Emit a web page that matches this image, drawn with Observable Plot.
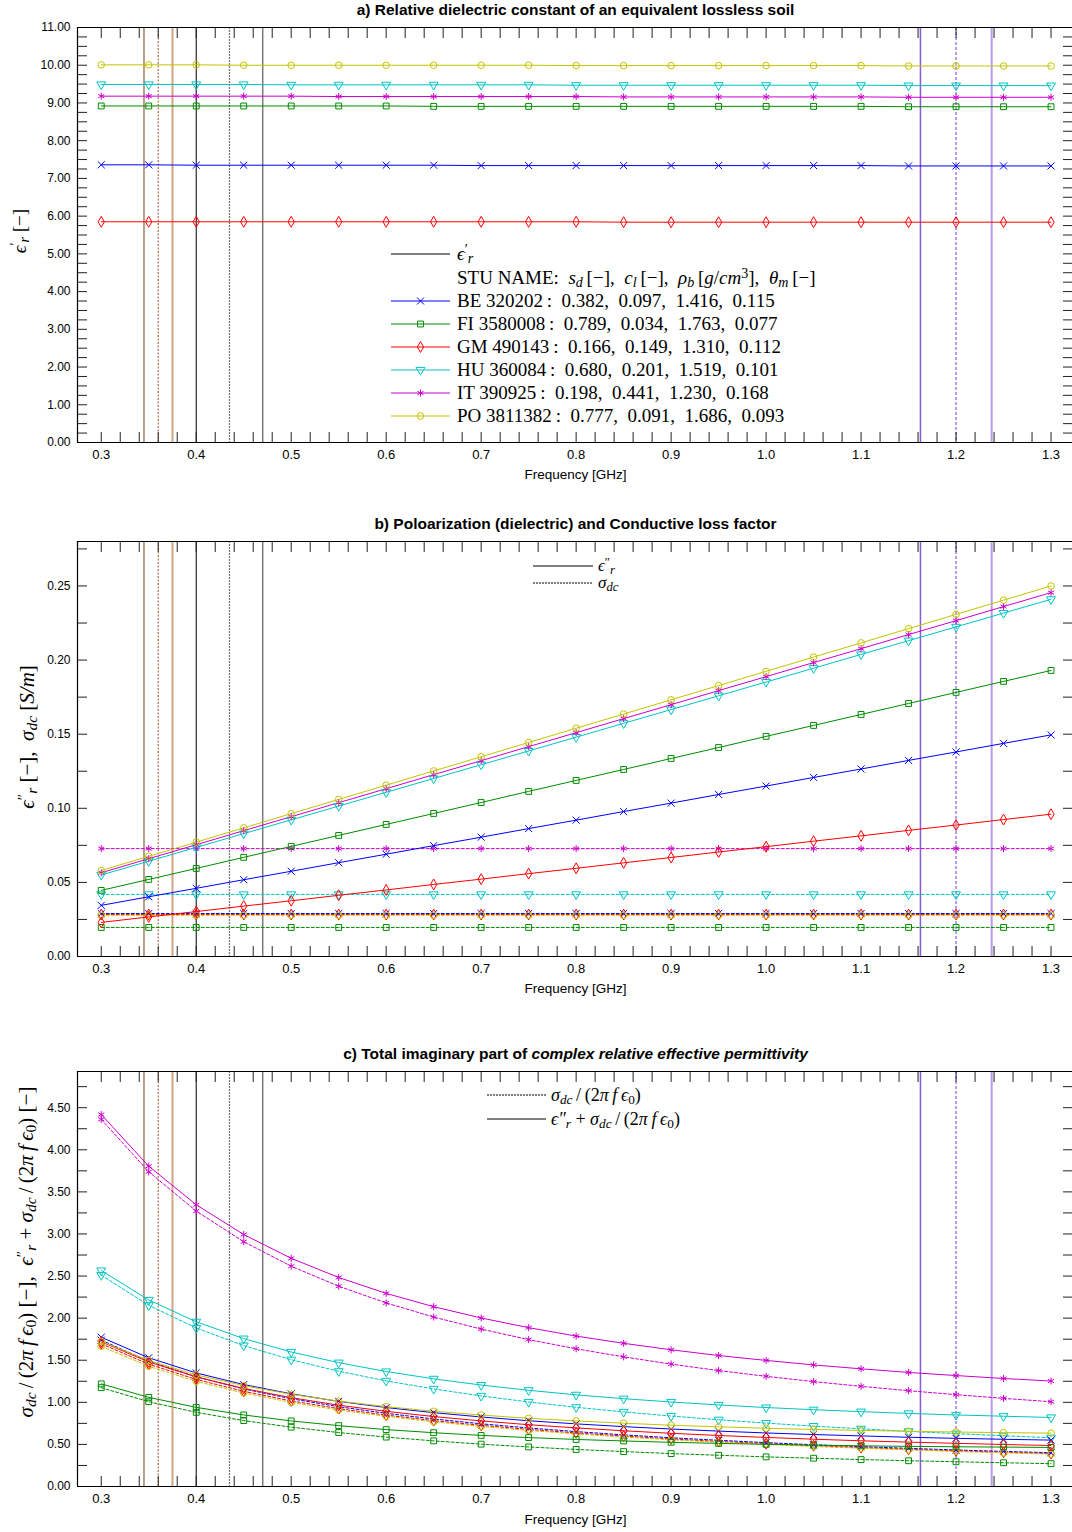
<!DOCTYPE html>
<html><head><meta charset="utf-8">
<script src="https://cdn.jsdelivr.net/npm/d3@7"></script>
<script src="https://cdn.jsdelivr.net/npm/@observablehq/plot@0.6"></script>
<style>
body{margin:0;background:#fff;}
#root{position:relative;width:1072px;height:1532px;overflow:hidden;font-family:"Liberation Sans",Arial,sans-serif;color:#000;}
.abs{position:absolute;}
.title{position:absolute;left:77px;width:997px;text-align:center;font-weight:bold;font-size:15.5px;line-height:18px;white-space:nowrap;}
.xlabel{position:absolute;left:77px;width:997px;text-align:center;font-size:13.5px;line-height:16px;}
.ylab{position:absolute;white-space:nowrap;transform:translate(-50%,-50%) rotate(-90deg);font-family:"Liberation Serif","Times New Roman",serif;font-size:21px;line-height:24px;}
.row{position:absolute;display:flex;align-items:center;height:24px;white-space:nowrap;font-family:"Liberation Serif","Times New Roman",serif;}
.row>span{line-height:0.92;display:inline-block;}
sub{font-size:0.74em;vertical-align:-0.22em;line-height:0;}
sup{font-size:0.74em;vertical-align:0.4em;line-height:0;}
svg.plot{position:absolute;left:0;}
</style></head>
<body><div id="root"></div>
<script>
// ---------------- DATA ----------------
const freq = [0.30,0.35,0.40,0.45,0.50,0.55,0.60,0.65,0.70,0.75,0.80,0.85,0.90,0.95,1.00,1.05,1.10,1.15,1.20,1.25,1.30];
const seriesNames = ["BE 320202","FI 3580008","GM 490143","HU 360084","IT 390925","PO 3811382"];
const soilParams = ["0.382,&ensp;0.097,&ensp;1.416,&ensp;0.115","0.789,&ensp;0.034,&ensp;1.763,&ensp;0.077","0.166,&ensp;0.149,&ensp;1.310,&ensp;0.112","0.680,&ensp;0.201,&ensp;1.519,&ensp;0.101","0.198,&ensp;0.441,&ensp;1.230,&ensp;0.168","0.777,&ensp;0.091,&ensp;1.686,&ensp;0.093"];

// a) real part eps'_r
const epsRealBE = [7.36,7.36,7.35,7.35,7.35,7.35,7.35,7.35,7.34,7.34,7.34,7.34,7.34,7.34,7.34,7.34,7.34,7.33,7.33,7.33,7.33];
const epsRealFI = [8.92,8.92,8.92,8.92,8.92,8.92,8.92,8.91,8.91,8.91,8.91,8.91,8.91,8.91,8.91,8.91,8.91,8.90,8.90,8.90,8.90];
const epsRealGM = [5.85,5.85,5.85,5.85,5.85,5.85,5.85,5.85,5.85,5.85,5.85,5.84,5.84,5.84,5.84,5.84,5.84,5.84,5.84,5.84,5.84];
const epsRealHU = [9.49,9.49,9.49,9.49,9.48,9.48,9.48,9.48,9.48,9.48,9.47,9.47,9.47,9.47,9.47,9.47,9.47,9.46,9.46,9.46,9.46];
const epsRealIT = [9.18,9.18,9.18,9.18,9.18,9.17,9.17,9.17,9.17,9.17,9.17,9.16,9.16,9.16,9.16,9.16,9.16,9.15,9.15,9.15,9.15];
const epsRealPO = [10.01,10.01,10.01,10.00,10.00,10.00,10.00,10.00,10.00,10.00,9.99,9.99,9.99,9.99,9.99,9.99,9.99,9.98,9.98,9.98,9.98];

// b) eps''_r (solid) and sigma_dc [S/m] (dashed)
const epsImagBE = [0.0345,0.0403,0.0460,0.0518,0.0575,0.0633,0.0690,0.0748,0.0805,0.0863,0.0920,0.0978,0.1035,0.1093,0.1150,0.1208,0.1265,0.1323,0.1380,0.1438,0.1495];
const epsImagFI = [0.0446,0.0520,0.0594,0.0669,0.0743,0.0817,0.0891,0.0965,0.1039,0.1114,0.1188,0.1262,0.1336,0.1410,0.1485,0.1559,0.1633,0.1707,0.1782,0.1856,0.1930];
const epsImagGM = [0.0230,0.0267,0.0303,0.0340,0.0376,0.0413,0.0449,0.0486,0.0522,0.0559,0.0595,0.0632,0.0668,0.0705,0.0741,0.0778,0.0814,0.0851,0.0887,0.0924,0.0960];
const epsImagHU = [0.0550,0.0643,0.0736,0.0829,0.0922,0.1015,0.1108,0.1201,0.1294,0.1387,0.1480,0.1573,0.1666,0.1759,0.1852,0.1945,0.2038,0.2131,0.2224,0.2317,0.2410];
const epsImagIT = [0.0565,0.0660,0.0754,0.0849,0.0943,0.1038,0.1132,0.1227,0.1321,0.1416,0.1510,0.1605,0.1699,0.1794,0.1888,0.1983,0.2077,0.2172,0.2266,0.2361,0.2455];
const epsImagPO = [0.0580,0.0676,0.0772,0.0868,0.0964,0.1060,0.1156,0.1252,0.1348,0.1444,0.1540,0.1636,0.1732,0.1828,0.1924,0.2020,0.2116,0.2212,0.2308,0.2404,0.2500];
const sigmaDC = [0.0290,0.0196,0.0283,0.0419,0.0728,0.0278]; // BE, FI, GM, HU, IT, PO

// c) sigma_dc/(2 pi f eps0) (dashed) and eps''_r + sigma_dc/(2 pi f eps0) (solid)
const condBE = [1.738,1.489,1.303,1.159,1.043,0.948,0.869,0.802,0.745,0.695,0.652,0.613,0.579,0.549,0.521,0.496,0.474,0.453,0.434,0.417,0.401];
const condFI = [1.174,1.007,0.881,0.783,0.705,0.641,0.587,0.542,0.503,0.470,0.440,0.415,0.391,0.371,0.352,0.336,0.320,0.306,0.294,0.282,0.271];
const condGM = [1.696,1.453,1.272,1.131,1.017,0.925,0.848,0.782,0.727,0.678,0.636,0.599,0.565,0.535,0.509,0.484,0.462,0.442,0.424,0.407,0.391];
const condHU = [2.511,2.152,1.883,1.674,1.506,1.369,1.255,1.159,1.076,1.004,0.941,0.886,0.837,0.793,0.753,0.717,0.685,0.655,0.628,0.603,0.579];
const condIT = [4.362,3.739,3.272,2.908,2.617,2.379,2.181,2.013,1.870,1.745,1.636,1.540,1.454,1.377,1.309,1.246,1.190,1.138,1.091,1.047,1.007];
const condPO = [1.666,1.428,1.249,1.111,0.999,0.908,0.833,0.769,0.714,0.666,0.625,0.588,0.555,0.526,0.500,0.476,0.454,0.435,0.416,0.400,0.384];
const totalBE = [1.773,1.529,1.349,1.211,1.101,1.011,0.938,0.877,0.826,0.781,0.744,0.711,0.683,0.658,0.636,0.617,0.601,0.585,0.572,0.561,0.551];
const totalFI = [1.219,1.059,0.940,0.850,0.779,0.723,0.676,0.639,0.607,0.581,0.559,0.541,0.525,0.512,0.501,0.492,0.483,0.477,0.472,0.468,0.464];
const totalGM = [1.719,1.480,1.302,1.165,1.055,0.966,0.893,0.831,0.779,0.734,0.696,0.662,0.632,0.606,0.583,0.562,0.543,0.527,0.513,0.499,0.487];
const totalHU = [2.566,2.216,1.957,1.757,1.598,1.471,1.366,1.279,1.205,1.143,1.089,1.043,1.004,0.969,0.938,0.912,0.889,0.868,0.850,0.835,0.820];
const totalIT = [4.419,3.805,3.347,2.993,2.711,2.483,2.294,2.136,2.002,1.887,1.787,1.701,1.624,1.556,1.498,1.444,1.398,1.355,1.318,1.283,1.253];
const totalPO = [1.724,1.496,1.326,1.198,1.095,1.014,0.949,0.894,0.849,0.810,0.779,0.752,0.728,0.709,0.692,0.678,0.666,0.656,0.647,0.640,0.634];

// vertical band markers [GHz]
const vlineFreqs = [0.345,0.36,0.375,0.40,0.435,0.47,1.1625,1.2,1.2375];

// tick labels
const xTickLabels = [0.3,0.4,0.5,0.6,0.7,0.8,0.9,1.0,1.1,1.2,1.3];
const yTickLabelsA = [0,1,2,3,4,5,6,7,8,9,10,11];
const yTickLabelsB = [0,0.05,0.10,0.15,0.20,0.25];
const yTickLabelsC = [0,0.5,1.0,1.5,2.0,2.5,3.0,3.5,4.0,4.5];

// ---------------- STYLES ----------------
const seriesColors = ["#0000ff","#008c00","#ff0000","#00c4c4","#cc00cc","#c4c400"];
const seriesSymbols = ["times","square","diamond","triangle","asterisk","circle"];
const vlineStyles = [
  {stroke:"#7a3e14", w:1, dash:null},
  {stroke:"#a0522d", w:1, dash:"2,1.5"},
  {stroke:"#d2a486", w:2, dash:null},
  {stroke:"#000000", w:1, dash:null},
  {stroke:"#777777", w:1.3, dash:"2,1"},
  {stroke:"#7a7a7a", w:1.5, dash:null},
  {stroke:"#8a5ad6", w:1.5, dash:null},
  {stroke:"#7040e0", w:1, dash:"3,2"},
  {stroke:"#b89ae8", w:2, dash:null}
];
const xDomain = [0.275, 1.3226];

// ---------------- BUILD ----------------
const root = document.getElementById("root");
const perSeries = (arrs) => arrs.flatMap((a, i) => a.map((v, j) => ({f: freq[j], v, s: seriesNames[i]})));
const rowsA = perSeries([epsRealBE,epsRealFI,epsRealGM,epsRealHU,epsRealIT,epsRealPO]);
const rowsBs = perSeries([epsImagBE,epsImagFI,epsImagGM,epsImagHU,epsImagIT,epsImagPO]);
const rowsBd = perSeries(sigmaDC.map(sv => freq.map(() => sv)));
const rowsCd = perSeries([condBE,condFI,condGM,condHU,condIT,condPO]);
const rowsCs = perSeries([totalBE,totalFI,totalGM,totalHU,totalIT,totalPO]);

const xMinor = d3.range(0, 51).map(i => +(0.3 + i * 0.02).toFixed(2));

function seriesMarks(rows, dash) {
  return [
    Plot.line(rows, {x: "f", y: "v", z: "s", stroke: "s", strokeWidth: 1, strokeDasharray: dash}),
    Plot.dot(rows, {x: "f", y: "v", stroke: "s", symbol: "s", fill: "none", r: 3.3, strokeWidth: 1,
      rotate: d => d.s === "HU 360084" ? 180 : 0})
  ];
}

function panel(top, yDomain, yMinor, yLabels, dataMarks) {
  const svg = Plot.plot({
    width: 1072, height: 470, marginLeft: 77, marginRight: 0, marginTop: 27, marginBottom: 28,
    x: {domain: xDomain, label: null},
    y: {domain: yDomain, label: null},
    color: {domain: seriesNames, range: seriesColors},
    symbol: {domain: seriesNames, range: seriesSymbols},
    style: {fontFamily: "'Liberation Sans', Arial, sans-serif", fontSize: "13px", background: "transparent", overflow: "visible"},
    marks: [
      ...vlineFreqs.map((f, i) => Plot.ruleX([f], {stroke: vlineStyles[i].stroke, strokeWidth: vlineStyles[i].w, strokeDasharray: vlineStyles[i].dash})),
      ...dataMarks,
      Plot.axisX(xMinor, {anchor: "bottom", tickSize: -10, tickFormat: () => "", label: null, stroke: "#222"}),
      Plot.axisX(xMinor, {anchor: "top", tickSize: -10, tickFormat: () => "", label: null, stroke: "#222"}),
      Plot.axisX(xTickLabels, {anchor: "bottom", tickSize: 0, tickPadding: 7, tickFormat: d3.format(".1f"), label: null, fontSize: 13}),
      Plot.axisY(yMinor, {anchor: "left", tickSize: -10, tickFormat: () => "", label: null, stroke: "#222"}),
      Plot.axisY(yMinor, {anchor: "right", tickSize: -10, tickFormat: () => "", label: null, stroke: "#222"}),
      Plot.axisY(yLabels, {anchor: "left", tickSize: 0, tickPadding: 7, tickFormat: d3.format(".2f"), label: null, fontSize: 12}),
      Plot.ruleY([yDomain[0]], {stroke: "#000", strokeWidth: 1.2}),
      Plot.ruleY([yDomain[1]], {stroke: "#000", strokeWidth: 1.2}),
      Plot.ruleX([xDomain[0]], {stroke: "#000", strokeWidth: 1.2})
    ]
  });
  svg.classList.add("plot");
  svg.style.top = top + "px";
  root.appendChild(svg);
}

panel(0, [0, 11], d3.range(0, 45).map(i => i * 0.25), yTickLabelsA, seriesMarks(rowsA, null));
panel(514, [0, 0.28], d3.range(0, 12).map(i => +(i * 0.025).toFixed(3)), yTickLabelsB,
  [...seriesMarks(rowsBd, "3,2"), ...seriesMarks(rowsBs, null)]);
panel(1044, [0, 4.93], d3.range(0, 20).map(i => i * 0.25), yTickLabelsC,
  [...seriesMarks(rowsCd, "3,2"), ...seriesMarks(rowsCs, null)]);

// ---------------- TEXT ----------------
function addDiv(cls, top, html, extra) {
  const d = document.createElement("div");
  d.className = cls; d.style.top = top + "px"; d.innerHTML = html;
  if (extra) Object.assign(d.style, extra);
  root.appendChild(d); return d;
}
addDiv("title", 1, "a) Relative dielectric constant of an equivalent lossless soil");
addDiv("title", 515, "b) Poloarization (dielectric) and Conductive loss factor");
addDiv("title", 1045, "c) Total imaginary part of <i>complex relative effective permittivity</i>");
addDiv("xlabel", 467, "Frequency [GHz]");
addDiv("xlabel", 981, "Frequency [GHz]");
addDiv("xlabel", 1512, "Frequency [GHz]");

const eps1 = '<i>ϵ</i><sup>′</sup><sub><i>r</i></sub>';
const eps2 = '<i>ϵ</i><sup>″</sup><sub><i>r</i></sub>';
const eps2plain = '<i>ϵ″</i><sub><i>r</i></sub>';
const sdc = '<i>σ</i><sub><i>dc</i></sub>';
const cond = sdc + '&thinsp;/&thinsp;(2<i>π</i>&thinsp;<i>f</i>&thinsp;<i>ϵ</i><sub>0</sub>)';

addDiv("ylab", 0, eps1 + '&nbsp;[−]', {left: "20px", top: "231px", fontSize: "19px"});
addDiv("ylab", 0, eps2 + '&nbsp;[−],&ensp;' + sdc + '&nbsp;[<i>S/m</i>]', {left: "27px", top: "737px"});
addDiv("ylab", 0, cond + '&nbsp;[−],&ensp;' + eps2 + ' + ' + cond + '&nbsp;[−]', {left: "26px", top: "1252px"});

const d3sym = {times: d3.symbolTimes, square: d3.symbolSquare, diamond: d3.symbolDiamond, triangle: d3.symbolTriangle, asterisk: d3.symbolAsterisk, circle: d3.symbolCircle};
function legendRow({y, x1, x2, tx, color = "#000", dash = null, sym = null, html, size}) {
  if (x1 != null) {
    const s = d3.select(root).append("svg").attr("class", "abs")
      .style("left", x1 + "px").style("top", (y - 6) + "px").attr("width", x2 - x1).attr("height", 12);
    s.append("line").attr("x1", 0).attr("x2", x2 - x1).attr("y1", 6).attr("y2", 6)
      .attr("stroke", color).attr("stroke-width", 1).attr("stroke-dasharray", dash);
    if (sym) s.append("path").attr("d", d3.symbol(d3sym[sym], Math.PI * 3.3 * 3.3)())
      .attr("transform", `translate(${(x2 - x1) / 2},6) rotate(${sym === "triangle" ? 180 : 0})`)
      .attr("fill", "none").attr("stroke", color);
  }
  d3.select(root).append("div").attr("class", "row")
    .style("left", tx + "px").style("top", (y - 12) + "px").style("font-size", size + "px")
    .html('<span>' + html + '</span>');
}
// legend a
legendRow({y: 254, x1: 391, x2: 450, tx: 457, html: eps1, size: 19});
legendRow({y: 278, tx: 457, size: 19, html: 'STU NAME:&ensp;<i>s<sub>d</sub></i>&thinsp;[−],&ensp;<i>c<sub>l</sub></i>&thinsp;[−],&ensp;<i>ρ<sub>b</sub></i>&thinsp;[<i>g</i>/<i>cm</i><sup>3</sup>],&ensp;<i>θ<sub>m</sub></i>&thinsp;[−]'});
seriesNames.forEach((n, i) => legendRow({y: 301 + i * 23, x1: 391, x2: 450, tx: 457, color: seriesColors[i], sym: seriesSymbols[i], size: 19,
  html: n + '&thinsp;:&ensp;' + soilParams[i]}));
// legend b
legendRow({y: 566, x1: 533, x2: 593, tx: 598, html: eps2, size: 17});
legendRow({y: 583, x1: 533, x2: 593, tx: 598, dash: "2,1", html: sdc, size: 17});
// legend c
legendRow({y: 1095, x1: 487, x2: 546, tx: 551, dash: "2,1", html: cond, size: 18});
legendRow({y: 1119, x1: 487, x2: 546, tx: 551, html: eps2plain + '&nbsp;+&nbsp;' + cond, size: 18});
</script>
</body></html>
